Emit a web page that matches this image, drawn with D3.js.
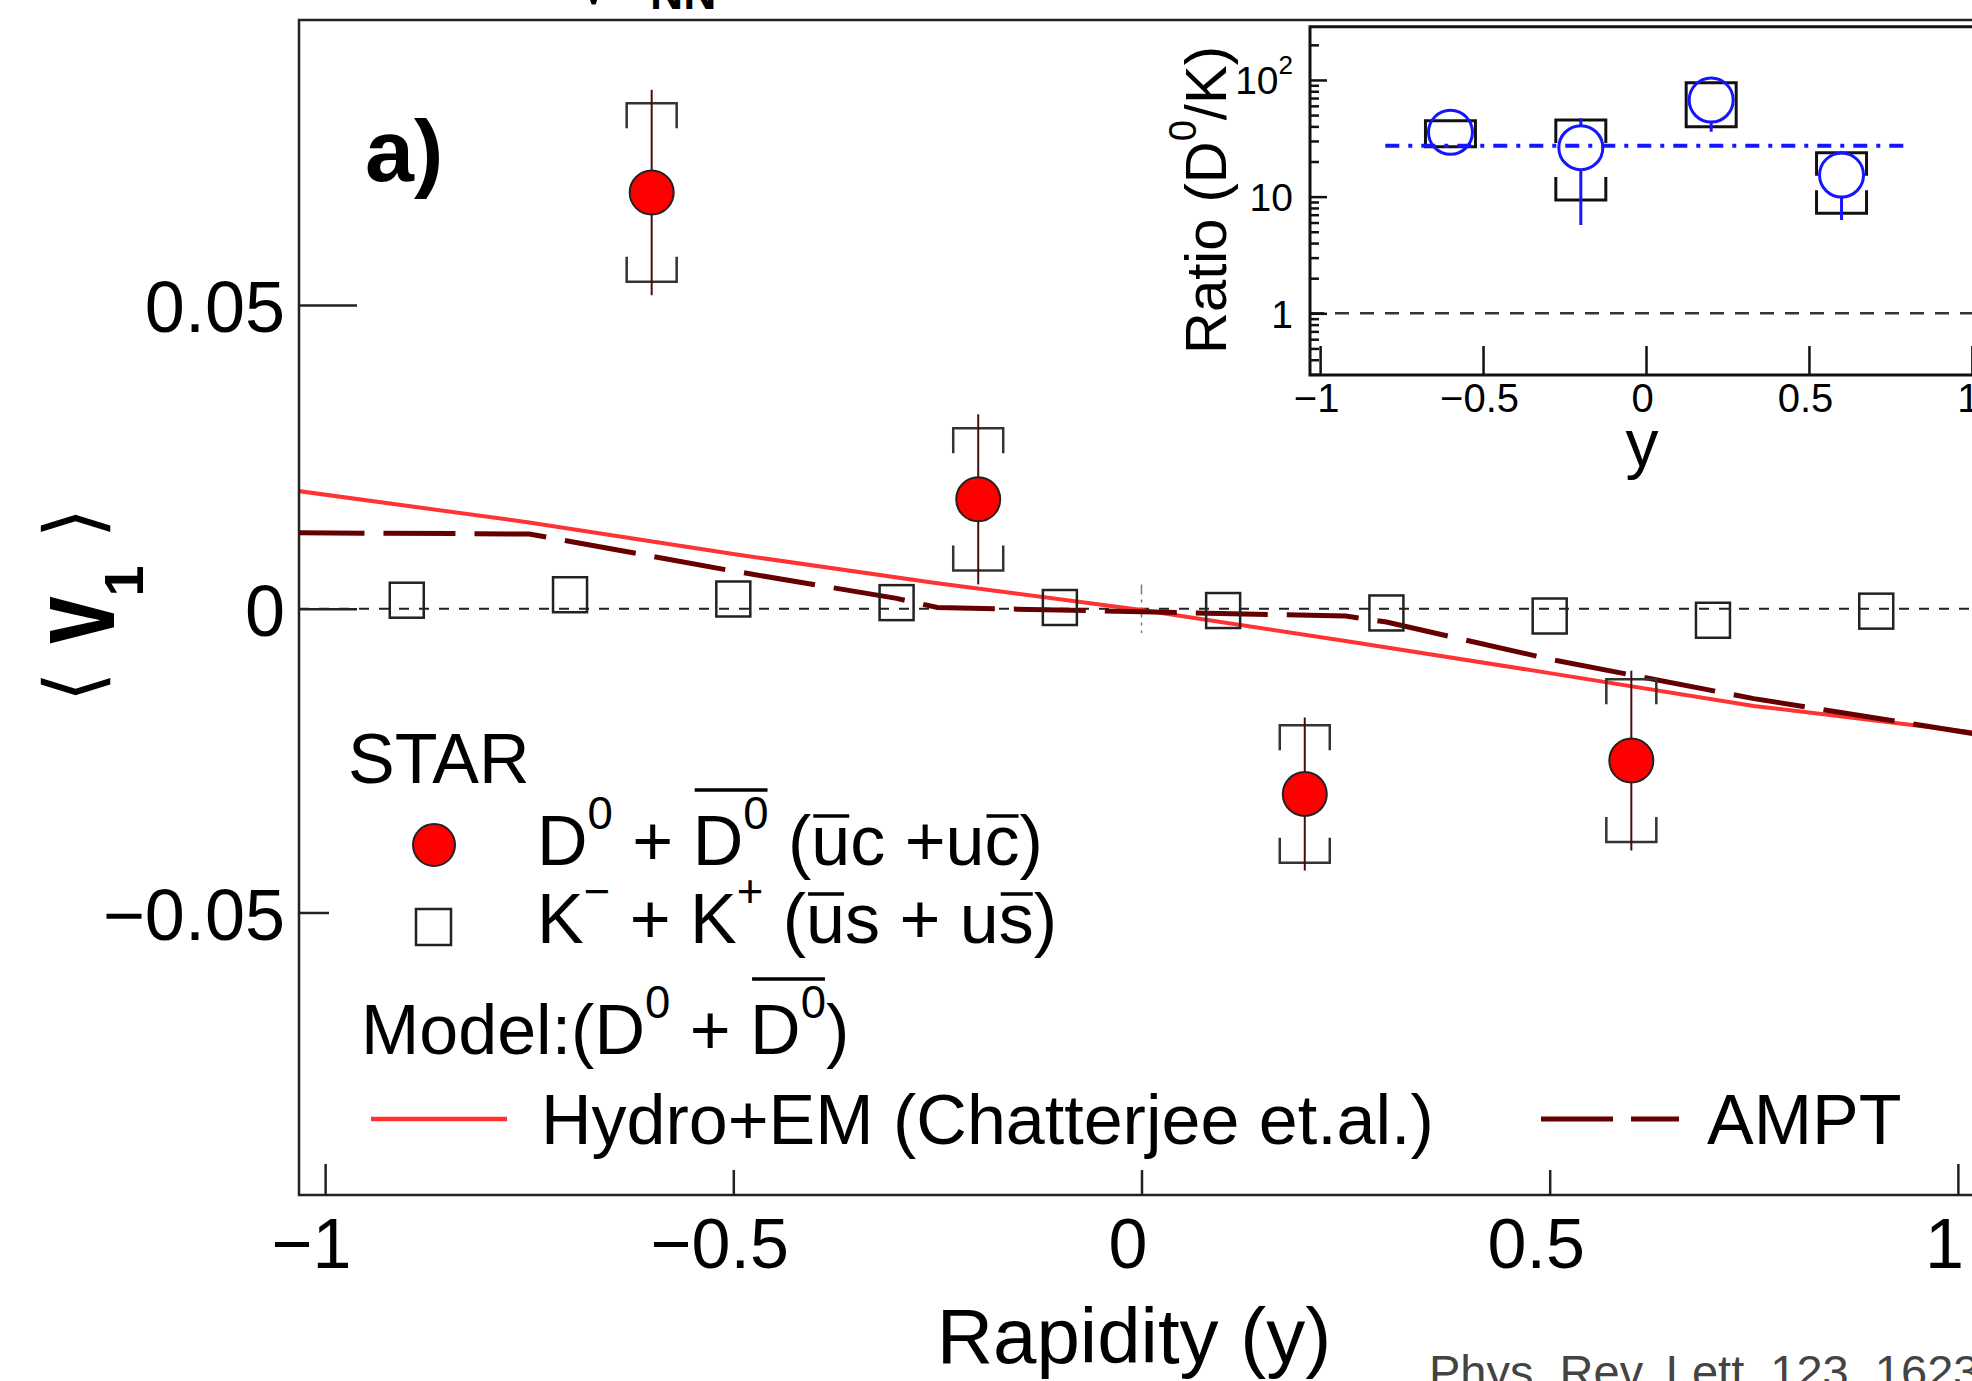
<!DOCTYPE html>
<html><head><meta charset="utf-8">
<script src="https://cdn.jsdelivr.net/npm/d3@7"></script>
<style>
html,body{margin:0;padding:0;background:#fff;}
svg{display:block;}
</style></head><body>
<svg id="chart" width="1972" height="1381"></svg>
<script>
// ---------------- data ----------------
const d0Rapidity = [-0.6, -0.2, 0.2, 0.6];
const d0V1       = [0.0685, 0.0180, -0.0305, -0.0250];
const d0Stat     = [0.0169, 0.0140, 0.0126, 0.0148];
const d0Sys      = [0.0147, 0.0117, 0.0113, 0.0134];

const kRapidity = [-0.9, -0.7, -0.5, -0.3, -0.1, 0.1, 0.3, 0.5, 0.7, 0.9];
const kV1       = [0.0014, 0.0023, 0.0016, 0.0010, 0.0002, -0.0003, -0.0007, -0.0012, -0.0019, -0.0004];

const hydroRapidity = [-1.04, -0.75, -0.5, -0.25, 0, 0.25, 0.5, 0.75, 1.04];
const hydroV1       = [0.0195, 0.0142, 0.0090, 0.0042, -0.0002, -0.0053, -0.0106, -0.0160, -0.0207];

const amptRapidity = [-1.04, -0.75, -0.5, -0.3, -0.25, 0, 0.25, 0.3, 0.5, 0.75, 1.04];
const amptV1       = [0.0125, 0.0123, 0.0062, 0.0017, 0.0002, -0.0005, -0.0012, -0.0022, -0.0083, -0.0148, -0.0210];

const ratioRapidity = [-0.6, -0.2, 0.2, 0.6];
const ratioValue    = [35.6, 26.3, 67.3, 15.3];
const ratioStat     = [7.0, 20.6, 31.3, 9.0];
const ratioSysLow   = [26.8, 9.35, 39.7, 7.19];
const ratioSysHigh  = [44.7, 45.3, 94.6, 23.8];
const ratioFitValue = 27.3;
const ratioFitRange = [-0.8, 0.8];

const mainXTicks  = [-1, -0.5, 0, 0.5, 1];
const mainYTicks  = [-0.05, 0, 0.05];
const insetXTicks = [-1, -0.5, 0, 0.5, 1];
const insetYTicks = [1, 10, 100];

// ---------------- setup ----------------
const FONT = '"Liberation Sans", Arial, Helvetica, sans-serif';
const svg = d3.select("#chart");
svg.append("rect").attr("width", 1972).attr("height", 1381).attr("fill", "#fff");

const x  = d3.scaleLinear().domain([-1.032, 1.032]).range([299, 1984]);
const y  = d3.scaleLinear().domain([-0.0965, 0.0969]).range([1195, 20]);
const ix = d3.scaleLinear().domain([-1.031, 1.031]).range([1310, 1982]);
const iy = d3.scaleLog().domain([0.296, 286]).range([375, 26.7]);

const defs = svg.append("defs");
defs.append("clipPath").attr("id", "clipMain").append("rect")
  .attr("x", 299).attr("y", 20).attr("width", 1685).attr("height", 1175);
defs.append("clipPath").attr("id", "clipInset").append("rect")
  .attr("x", 1310).attr("y", 26.7).attr("width", 672).attr("height", 348.3);

// rich text helper (superscripts + overbars)
function rich(parent, x0, y0, size, segs) {
  const t = parent.append("text").attr("x", x0).attr("y", y0).attr("font-size", size)
    .attr("font-family", FONT).attr("fill", "#000")
    .attr("xml:space", "preserve").style("white-space", "pre");
  let idx = 0, cur = 0;
  const bars = [];
  segs.forEach(s => {
    const sh = s.sup ? -0.52 * size : 0;
    const ts = t.append("tspan").text(s.t).attr("dy", sh - cur);
    if (s.sup) ts.attr("font-size", size * 0.65);
    cur = sh;
    if (s.bar) {
      const last = bars[bars.length - 1];
      if (last && last.end === idx - 1 && last.h === s.bar) last.end = idx + s.t.length - 1;
      else bars.push({start: idx, end: idx + s.t.length - 1, h: s.bar});
    }
    idx += s.t.length;
  });
  const node = t.node();
  bars.forEach(b => {
    const x1 = node.getStartPositionOfChar(b.start).x;
    const x2 = node.getEndPositionOfChar(b.end).x;
    parent.append("line").attr("x1", x1 + 2).attr("x2", x2 - 1)
      .attr("y1", y0 - b.h * size).attr("y2", y0 - b.h * size)
      .attr("stroke", "#000").attr("stroke-width", 3.5);
  });
  return t;
}

// ---------------- clipped title fragment at top ----------------
const ttl = svg.append("text").attr("x", 572).attr("y", 4).attr("font-size", 78)
  .attr("font-family", FONT).attr("fill", "#000");
ttl.append("tspan").text("√");
ttl.append("tspan").text("s").attr("dy", -16);
ttl.append("tspan").text("NN").attr("x", 650).attr("dy", 21).attr("font-size", 46).attr("font-weight", "bold");

// ---------------- main plot ----------------
const plot = svg.append("g").attr("clip-path", "url(#clipMain)");

plot.append("line").attr("x1", x.range()[0]).attr("x2", x.range()[1])
  .attr("y1", y(0)).attr("y2", y(0))
  .attr("stroke", "#222").attr("stroke-width", 2).attr("stroke-dasharray", "10,10");
plot.append("line").attr("x1", x(0)).attr("x2", x(0))
  .attr("y1", y(0.004)).attr("y2", y(-0.004))
  .attr("stroke", "#777").attr("stroke-width", 1.5).attr("stroke-dasharray", "10,5,3,5");

const lineGen = d3.line().x(d => x(d[0])).y(d => y(d[1]));
plot.append("path").datum(d3.zip(hydroRapidity, hydroV1)).attr("d", lineGen)
  .attr("fill", "none").attr("stroke", "#ff3333").attr("stroke-width", 4);
plot.append("path").datum(d3.zip(amptRapidity, amptV1)).attr("d", lineGen)
  .attr("fill", "none").attr("stroke", "#660000").attr("stroke-width", 5)
  .attr("stroke-dasharray", "72,19");

plot.selectAll(".kaon").data(d3.zip(kRapidity, kV1)).join("rect").attr("class", "kaon")
  .attr("x", d => x(d[0]) - 17).attr("y", d => y(d[1]) - 17.5)
  .attr("width", 34).attr("height", 35)
  .attr("fill", "none").attr("stroke", "#222").attr("stroke-width", 2.5);

const d0 = d0Rapidity.map((r, i) => ({r, v: d0V1[i], st: d0Stat[i], sy: d0Sys[i]}));
const bw = 25, bl = 25;
plot.selectAll(".sys").data(d0).join("path").attr("class", "sys")
  .attr("d", d => {
    const cx = x(d.r), t = y(d.v + d.sy), b = y(d.v - d.sy);
    return `M${cx - bw},${t + bl}V${t}H${cx + bw}V${t + bl}M${cx - bw},${b - bl}V${b}H${cx + bw}V${b - bl}`;
  })
  .attr("fill", "none").attr("stroke", "#333").attr("stroke-width", 2.5);
plot.selectAll(".stat").data(d0).join("line").attr("class", "stat")
  .attr("x1", d => x(d.r)).attr("x2", d => x(d.r))
  .attr("y1", d => y(d.v + d.st)).attr("y2", d => y(d.v - d.st))
  .attr("stroke", "#4a0d0d").attr("stroke-width", 2);
plot.selectAll(".d0pt").data(d0).join("circle").attr("class", "d0pt")
  .attr("cx", d => x(d.r)).attr("cy", d => y(d.v)).attr("r", 22)
  .attr("fill", "#ff0000").attr("stroke", "#222").attr("stroke-width", 2);

// frame
svg.append("path").attr("d", "M1984,20H299V1195H1984")
  .attr("fill", "none").attr("stroke", "#222").attr("stroke-width", 2.5);

// y axis
const yTickG = svg.append("g").attr("transform", "translate(299,0)")
  .call(d3.axisRight(y).tickValues(mainYTicks).tickSize(58).tickFormat(""));
yTickG.select(".domain").remove();
yTickG.selectAll(".tick line").attr("stroke", "#222").attr("stroke-width", 2.5)
  .attr("x2", d => d < 0 ? 30 : 58);
const yLabG = svg.append("g").attr("transform", "translate(299,0)")
  .call(d3.axisLeft(y).tickValues(mainYTicks).tickSize(0).tickPadding(14)
    .tickFormat(d => d === 0 ? "0" : d3.format(".2f")(d)));
yLabG.select(".domain").remove();
yLabG.selectAll("text").attr("font-size", 72).attr("font-family", FONT).attr("fill", "#000").attr("dy", "0.37em");

// x axis
const xTickG = svg.append("g").attr("transform", "translate(0,1195)")
  .call(d3.axisTop(x).tickValues(mainXTicks).tickSize(27).tickFormat(""));
xTickG.select(".domain").remove();
xTickG.selectAll(".tick line").attr("stroke", "#222").attr("stroke-width", 2.5)
  .attr("y2", d => Math.abs(d) === 1 ? -31 : -25);
const xLabG = svg.append("g").attr("transform", "translate(0,1195)")
  .call(d3.axisBottom(x).tickValues(mainXTicks).tickSize(0).tickPadding(23).tickFormat(d3.format("~g")));
xLabG.select(".domain").remove();
xLabG.selectAll("text").attr("font-size", 70).attr("font-family", FONT).attr("fill", "#000").attr("x", -14);

// axis titles
svg.append("text").attr("x", 1134).attr("y", 1363).attr("text-anchor", "middle")
  .attr("font-size", 78).attr("font-family", FONT).text("Rapidity (y)");

const yt = svg.append("g").attr("transform", "translate(114,605) rotate(-90)");
yt.append("text").text("⟨").attr("x", -82).attr("y", -14).attr("text-anchor", "middle")
  .attr("font-family", "DejaVu Sans").attr("font-size", 78);
yt.append("g").attr("transform", "translate(-15,0) scale(0.85,1.2)")
  .append("text").text("v").attr("text-anchor", "middle")
  .attr("font-family", FONT).attr("font-weight", "bold").attr("font-size", 100);
yt.append("text").text("1").attr("x", 24).attr("y", 29).attr("text-anchor", "middle")
  .attr("font-family", FONT).attr("font-weight", "bold").attr("font-size", 56);
yt.append("text").text("⟩").attr("x", 82).attr("y", -14).attr("text-anchor", "middle")
  .attr("font-family", "DejaVu Sans").attr("font-size", 78);

// panel label
svg.append("text").attr("x", 365).attr("y", 181).attr("font-size", 88)
  .attr("font-weight", "bold").attr("font-family", FONT).text("a)");

// ---------------- legend ----------------
const leg = svg.append("g");
leg.append("text").attr("x", 348).attr("y", 783).attr("font-size", 70)
  .attr("font-family", FONT).text("STAR");
leg.append("circle").attr("cx", 434).attr("cy", 845).attr("r", 21)
  .attr("fill", "#ff0000").attr("stroke", "#222").attr("stroke-width", 2);
rich(leg, 537, 865, 70, [
  {t: "D"}, {t: "0", sup: 1}, {t: " + "}, {t: "D", bar: 1.07}, {t: "0", sup: 1, bar: 1.07},
  {t: " ("}, {t: "u", bar: 0.7}, {t: "c +u"}, {t: "c", bar: 0.7}, {t: ")"}
]);
leg.append("rect").attr("x", 416).attr("y", 909).attr("width", 35).attr("height", 36)
  .attr("fill", "none").attr("stroke", "#222").attr("stroke-width", 2.5);
rich(leg, 537, 943, 70, [
  {t: "K"}, {t: "−", sup: 1}, {t: " + K"}, {t: "+", sup: 1},
  {t: " ("}, {t: "u", bar: 0.7}, {t: "s + u"}, {t: "s", bar: 0.7}, {t: ")"}
]);
rich(leg, 361, 1054, 70, [
  {t: "Model:(D"}, {t: "0", sup: 1}, {t: " + "}, {t: "D", bar: 1.07}, {t: "0", sup: 1, bar: 1.07}, {t: ")"}
]);
leg.append("line").attr("x1", 371).attr("x2", 507).attr("y1", 1119).attr("y2", 1119)
  .attr("stroke", "#ff3333").attr("stroke-width", 4.5);
leg.append("text").attr("x", 541).attr("y", 1144).attr("font-size", 70)
  .attr("font-family", FONT).text("Hydro+EM (Chatterjee et.al.)");
leg.append("line").attr("x1", 1541).attr("x2", 1679).attr("y1", 1119).attr("y2", 1119)
  .attr("stroke", "#660000").attr("stroke-width", 5).attr("stroke-dasharray", "72,18");
leg.append("text").attr("x", 1707).attr("y", 1144).attr("font-size", 70)
  .attr("font-family", FONT).text("AMPT");

// citation
svg.append("text").attr("x", 1429).attr("y", 1388).attr("font-size", 47)
  .attr("font-family", FONT).attr("fill", "#444").text("Phys. Rev. Lett. 123, 162301 (2019)");

// ---------------- inset ----------------
const inset = svg.append("g");
inset.append("rect").attr("x", 1310).attr("y", 26.7).attr("width", 672).attr("height", 348.3).attr("fill", "#fff");
const ip = inset.append("g").attr("clip-path", "url(#clipInset)");
ip.append("line").attr("x1", ix.range()[0]).attr("x2", ix.range()[1])
  .attr("y1", iy(1)).attr("y2", iy(1))
  .attr("stroke", "#333").attr("stroke-width", 2.5).attr("stroke-dasharray", "14,11");

const rat = ratioRapidity.map((r, i) => ({r, v: ratioValue[i], st: ratioStat[i], lo: ratioSysLow[i], hi: ratioSysHigh[i]}));
const ibw = 25, ibl = 23, ir = 22;
ip.selectAll(".isys").data(rat).join("path").attr("class", "isys")
  .attr("d", d => {
    const cx = ix(d.r), t = iy(d.hi), b = iy(d.lo);
    return `M${cx - ibw},${t + ibl}V${t}H${cx + ibw}V${t + ibl}M${cx - ibw},${b - ibl}V${b}H${cx + ibw}V${b - ibl}`;
  })
  .attr("fill", "none").attr("stroke", "#111").attr("stroke-width", 3);
ip.append("line").attr("x1", ix(ratioFitRange[0])).attr("x2", ix(ratioFitRange[1]))
  .attr("y1", iy(ratioFitValue)).attr("y2", iy(ratioFitValue))
  .attr("stroke", "#1515ff").attr("stroke-width", 4).attr("stroke-dasharray", "14,9,4,9");
// stat error bars drawn only outside the open marker
ip.selectAll(".istat").data(rat).join("path").attr("class", "istat")
  .attr("d", d => {
    const cx = ix(d.r), cy = iy(d.v), t = iy(d.v + d.st), b = iy(d.v - d.st);
    let p = "";
    if (t < cy - ir) p += `M${cx},${t}V${cy - ir}`;
    if (b > cy + ir) p += `M${cx},${cy + ir}V${b}`;
    return p || "M0,0";
  })
  .attr("fill", "none").attr("stroke", "#1515ff").attr("stroke-width", 3);
ip.selectAll(".ipt").data(rat).join("circle").attr("class", "ipt")
  .attr("cx", d => ix(d.r)).attr("cy", d => iy(d.v)).attr("r", ir)
  .attr("fill", "none").attr("stroke", "#1515ff").attr("stroke-width", 3);

inset.append("path").attr("d", "M1982,26.7H1310V375H1982")
  .attr("fill", "none").attr("stroke", "#111").attr("stroke-width", 3);

const iyTick = inset.append("g").attr("transform", "translate(1310,0)")
  .call(d3.axisRight(iy).tickValues(iy.ticks()).tickSize(9).tickFormat(""));
iyTick.select(".domain").remove();
iyTick.selectAll(".tick line").attr("stroke", "#111").attr("stroke-width", 2.5)
  .attr("x2", d => insetYTicks.some(v => Math.abs(v - d) < 1e-9) ? 17 : 9);
const iyLab = inset.append("g").attr("transform", "translate(1310,0)")
  .call(d3.axisLeft(iy).tickValues(insetYTicks).tickSize(0).tickPadding(17)
    .tickFormat(d => d === 100 ? "10" : String(d)));
iyLab.select(".domain").remove();
iyLab.selectAll("text").attr("font-size", 39).attr("font-family", FONT).attr("fill", "#000").attr("dy", "0.36em");
iyLab.selectAll(".tick").filter(d => d === 100).select("text")
  .append("tspan").text("2").attr("font-size", 26).attr("dy", -20);

const ixTick = inset.append("g").attr("transform", "translate(0,375)")
  .call(d3.axisTop(ix).tickValues(insetXTicks).tickSize(29).tickFormat(""));
ixTick.select(".domain").remove();
ixTick.selectAll(".tick line").attr("stroke", "#111").attr("stroke-width", 2.5);
const ixLab = inset.append("g").attr("transform", "translate(0,375)")
  .call(d3.axisBottom(ix).tickValues(insetXTicks).tickSize(0).tickPadding(9).tickFormat(d3.format("~g")));
ixLab.select(".domain").remove();
ixLab.selectAll("text").attr("font-size", 40).attr("font-family", FONT).attr("fill", "#000").attr("x", -4);

inset.append("text").attr("x", 1642).attr("y", 466).attr("text-anchor", "middle")
  .attr("font-size", 66).attr("font-family", FONT).text("y");

const iyt = inset.append("text").attr("transform", "translate(1226,200) rotate(-90)")
  .attr("text-anchor", "middle").attr("font-size", 58).attr("font-family", FONT);
iyt.append("tspan").text("Ratio (D");
iyt.append("tspan").text("0").attr("font-size", 38).attr("dy", -30);
iyt.append("tspan").text("/K)").attr("dy", 30);
</script>
</body></html>
